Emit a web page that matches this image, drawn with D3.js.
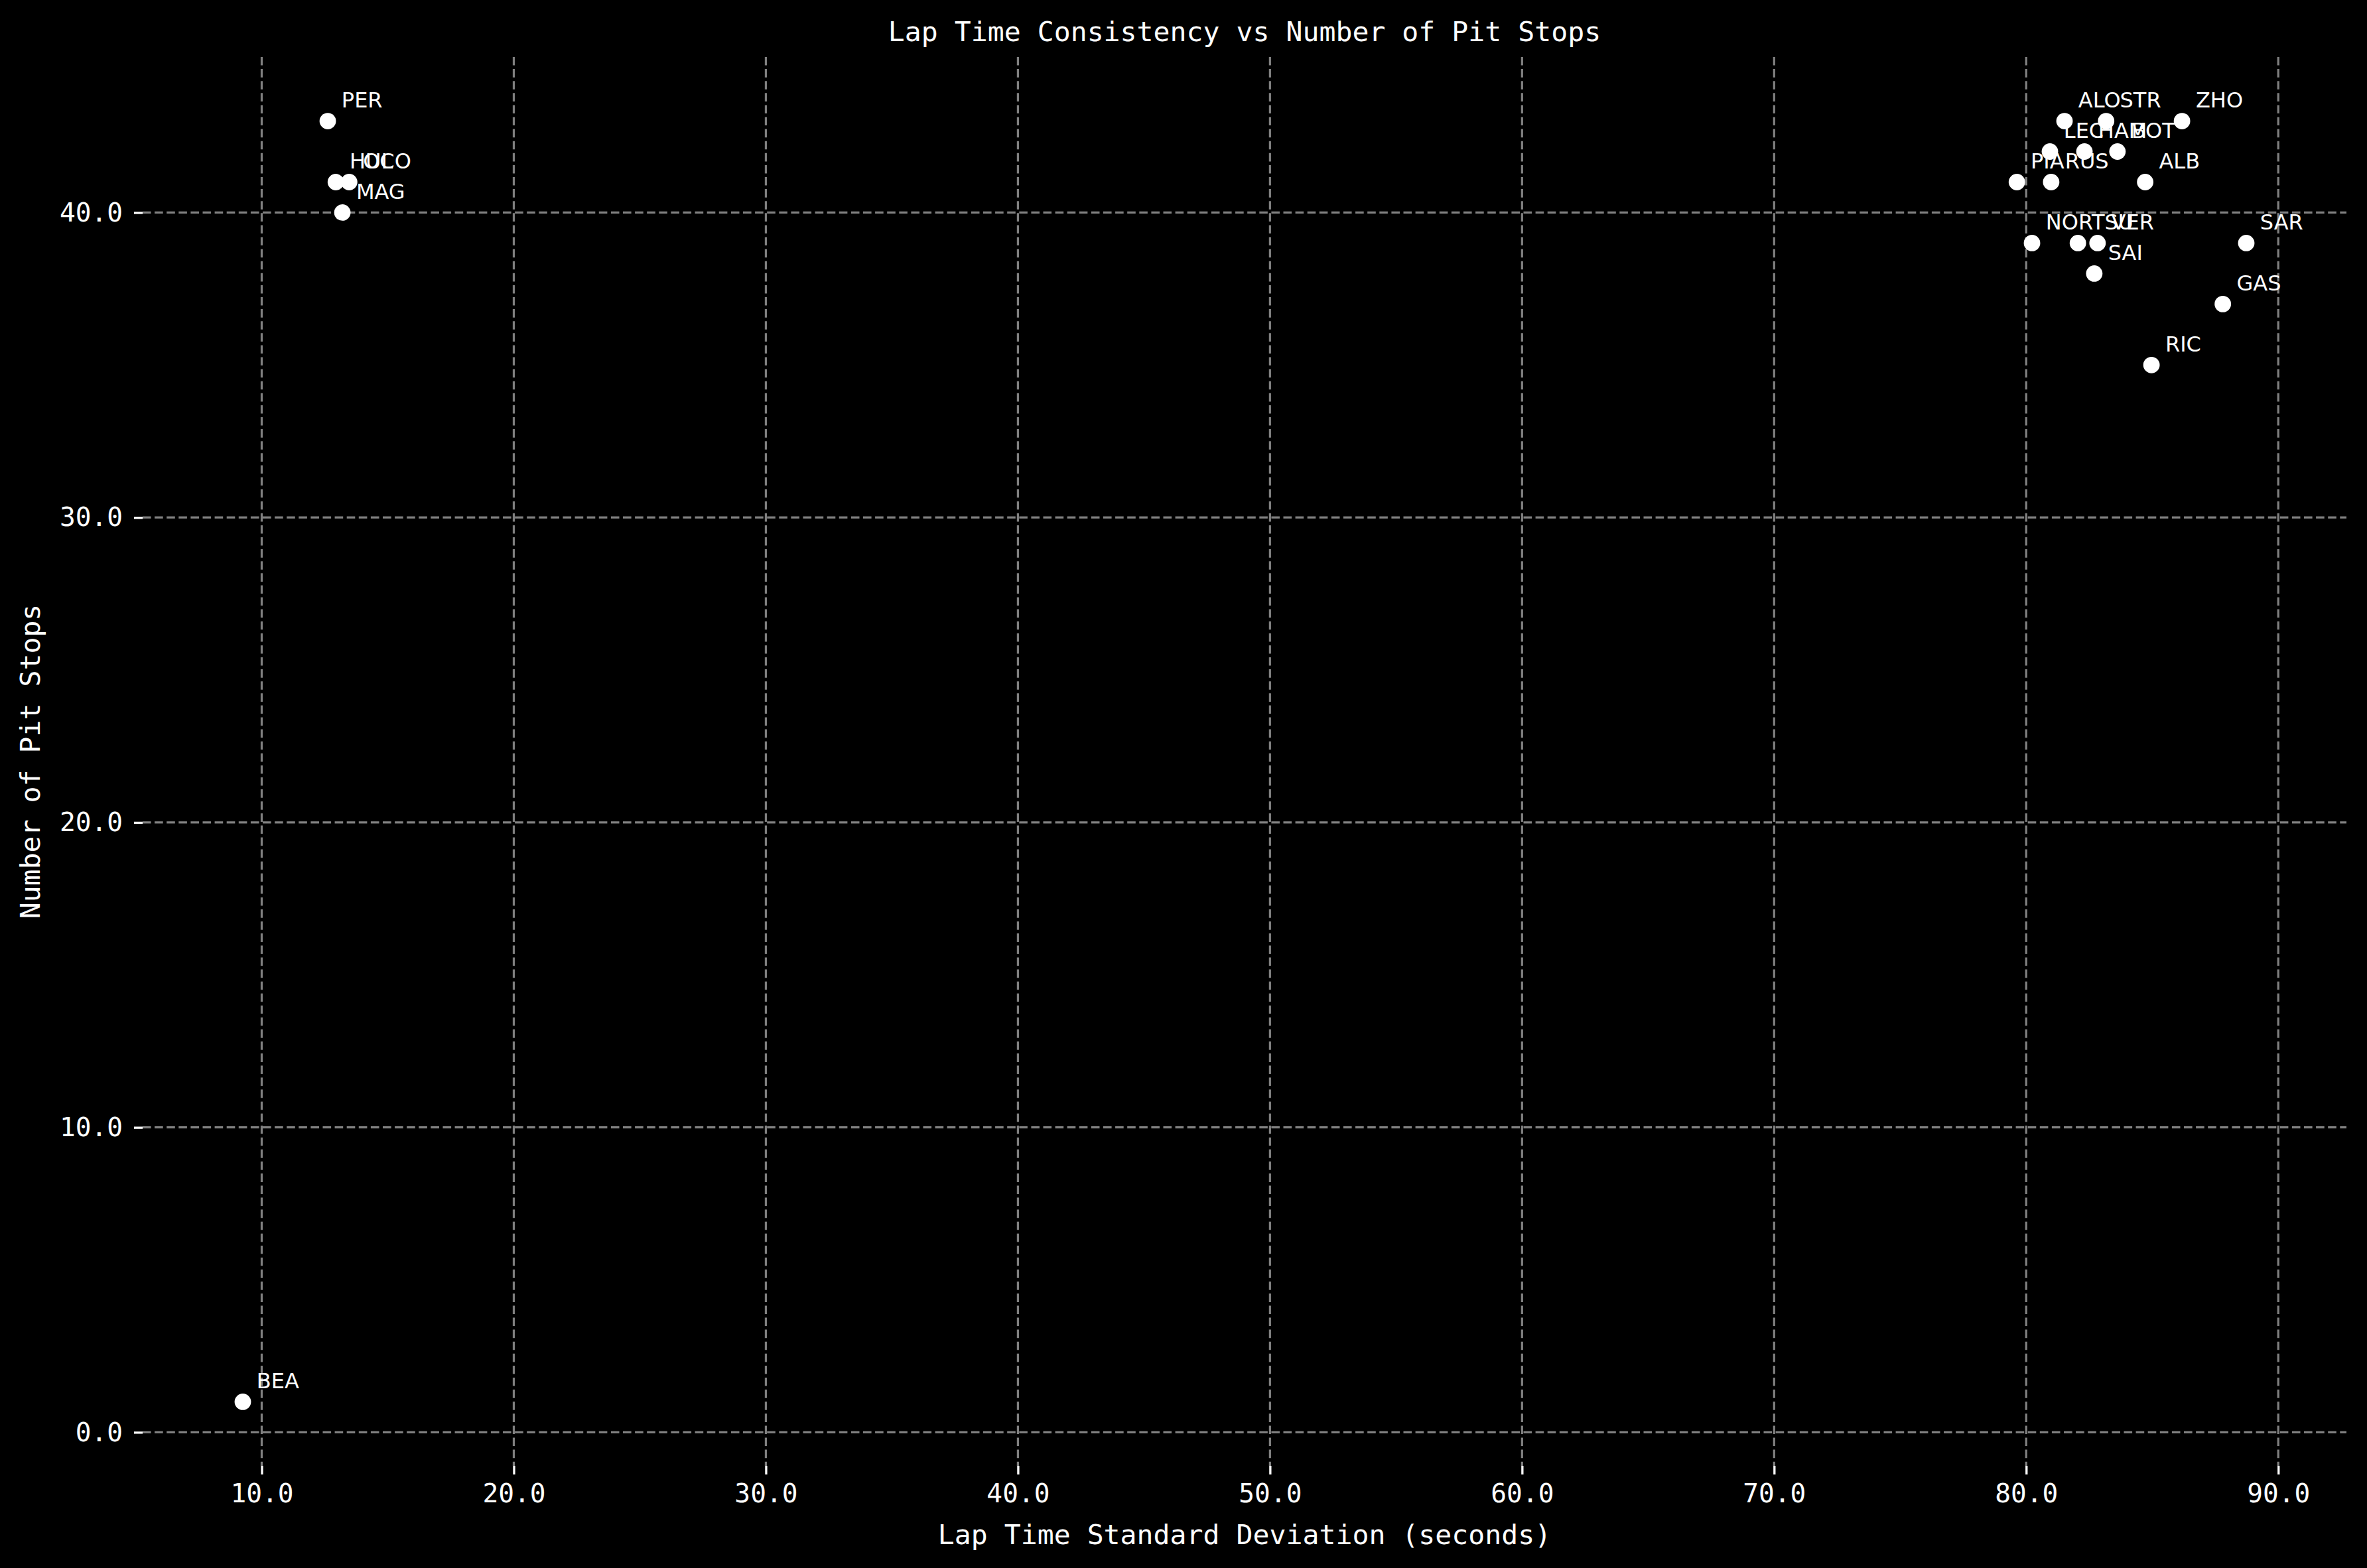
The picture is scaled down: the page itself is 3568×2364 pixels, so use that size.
<!DOCTYPE html>
<html>
<head>
<meta charset="utf-8">
<script src="https://cdn.jsdelivr.net/npm/d3@7"></script>
<style>
  html, body { margin: 0; padding: 0; background: #000; }
  svg { display: block; }
</style>
</head>
<body>
<script>
// ---- data ----
const drivers = ["PER","HUL","OCO","MAG","BEA","ALO","STR","ZHO","LEC","HAM","BOT","PIA","RUS","ALB","NOR","TSU","VER","SAR","SAI","GAS","RIC"];
const lapStd  = [12.62,12.94,13.47,13.20,9.25,81.52,83.17,86.18,80.94,82.31,83.62,79.63,80.99,84.72,80.23,82.05,82.83,88.73,82.70,87.80,84.97];
const pitStops = [43,41,41,40,1,43,43,43,42,42,42,41,41,41,39,39,39,39,38,37,35];
const xTicks = [10,20,30,40,50,60,70,80,90];
const yTicks = [0,10,20,30,40];
const titleText = "Lap Time Consistency vs Number of Pit Stops";
const xLabelText = "Lap Time Standard Deviation (seconds)";
const yLabelText = "Number of Pit Stops";

const W = 3568, H = 2364;
const plot = { left: 215, right: 3537, top: 86, bottom: 2210 };
const mono = "'DejaVu Sans Mono', monospace";
const sans = "'DejaVu Sans', sans-serif";

function padded(ext) { const d = ext[1] - ext[0]; return [ext[0] - 0.05 * d, ext[1] + 0.05 * d]; }

const x = d3.scaleLinear().domain(padded(d3.extent(lapStd))).range([plot.left, plot.right]);
const y = d3.scaleLinear().domain(padded(d3.extent(pitStops))).range([plot.bottom, plot.top]);

const svg = d3.select("body").append("svg").attr("width", W).attr("height", H);
svg.append("rect").attr("width", W).attr("height", H).attr("fill", "#000");

// grid
const grid = svg.append("g");
grid.selectAll("line.vx").data(xTicks).join("line")
  .attr("x1", d => x(d)).attr("x2", d => x(d))
  .attr("y1", plot.top).attr("y2", plot.bottom)
  .attr("stroke", "#808080").attr("stroke-width", 3.2).attr("stroke-dasharray", "12.6,5.5");
grid.selectAll("line.hy").data(yTicks).join("line")
  .attr("x1", plot.left).attr("x2", plot.right)
  .attr("y1", d => y(d)).attr("y2", d => y(d))
  .attr("stroke", "#808080").attr("stroke-width", 3.2).attr("stroke-dasharray", "12.6,5.5");

// axes
const xAxis = d3.axisBottom(x).tickValues(xTicks).tickFormat(d3.format(".1f")).tickSize(13).tickPadding(14);
const yAxis = d3.axisLeft(y).tickValues(yTicks).tickFormat(d3.format(".1f")).tickSize(13).tickPadding(17);
const gx = svg.append("g").attr("transform", `translate(0,${plot.bottom})`).call(xAxis);
const gy = svg.append("g").attr("transform", `translate(${plot.left},0)`).call(yAxis);
[gx, gy].forEach(g => {
  g.select(".domain").remove();
  g.selectAll(".tick line").attr("stroke", "#fff").attr("stroke-width", 3.3);
  g.selectAll(".tick text").attr("fill", "#fff").style("font-family", mono).style("font-size", "39.5px");
});
gx.selectAll(".tick text").attr("dy", "0.71em");

// points
svg.append("g").selectAll("circle").data(drivers).join("circle")
  .attr("cx", (d, i) => x(lapStd[i])).attr("cy", (d, i) => y(pitStops[i]))
  .attr("r", 12.4).attr("fill", "#fff");

// annotations
svg.append("g").selectAll("text").data(drivers).join("text")
  .attr("x", (d, i) => x(lapStd[i]) + 20.8).attr("y", (d, i) => y(pitStops[i]) - 20.8)
  .attr("fill", "#fff").style("font-family", sans).style("font-size", "32px")
  .text(d => d);

// title and labels
svg.append("text").attr("x", (plot.left + plot.right) / 2).attr("y", 62)
  .attr("text-anchor", "middle").attr("fill", "#fff")
  .style("font-family", mono).style("font-size", "41.5px").text(titleText);
svg.append("text").attr("x", (plot.left + plot.right) / 2).attr("y", 2328)
  .attr("text-anchor", "middle").attr("fill", "#fff")
  .style("font-family", mono).style("font-size", "41.5px").text(xLabelText);
svg.append("text").attr("transform", `translate(60,${(plot.top + plot.bottom) / 2}) rotate(-90)`)
  .attr("text-anchor", "middle").attr("fill", "#fff")
  .style("font-family", mono).style("font-size", "41.5px").text(yLabelText);
</script>
</body>
</html>
